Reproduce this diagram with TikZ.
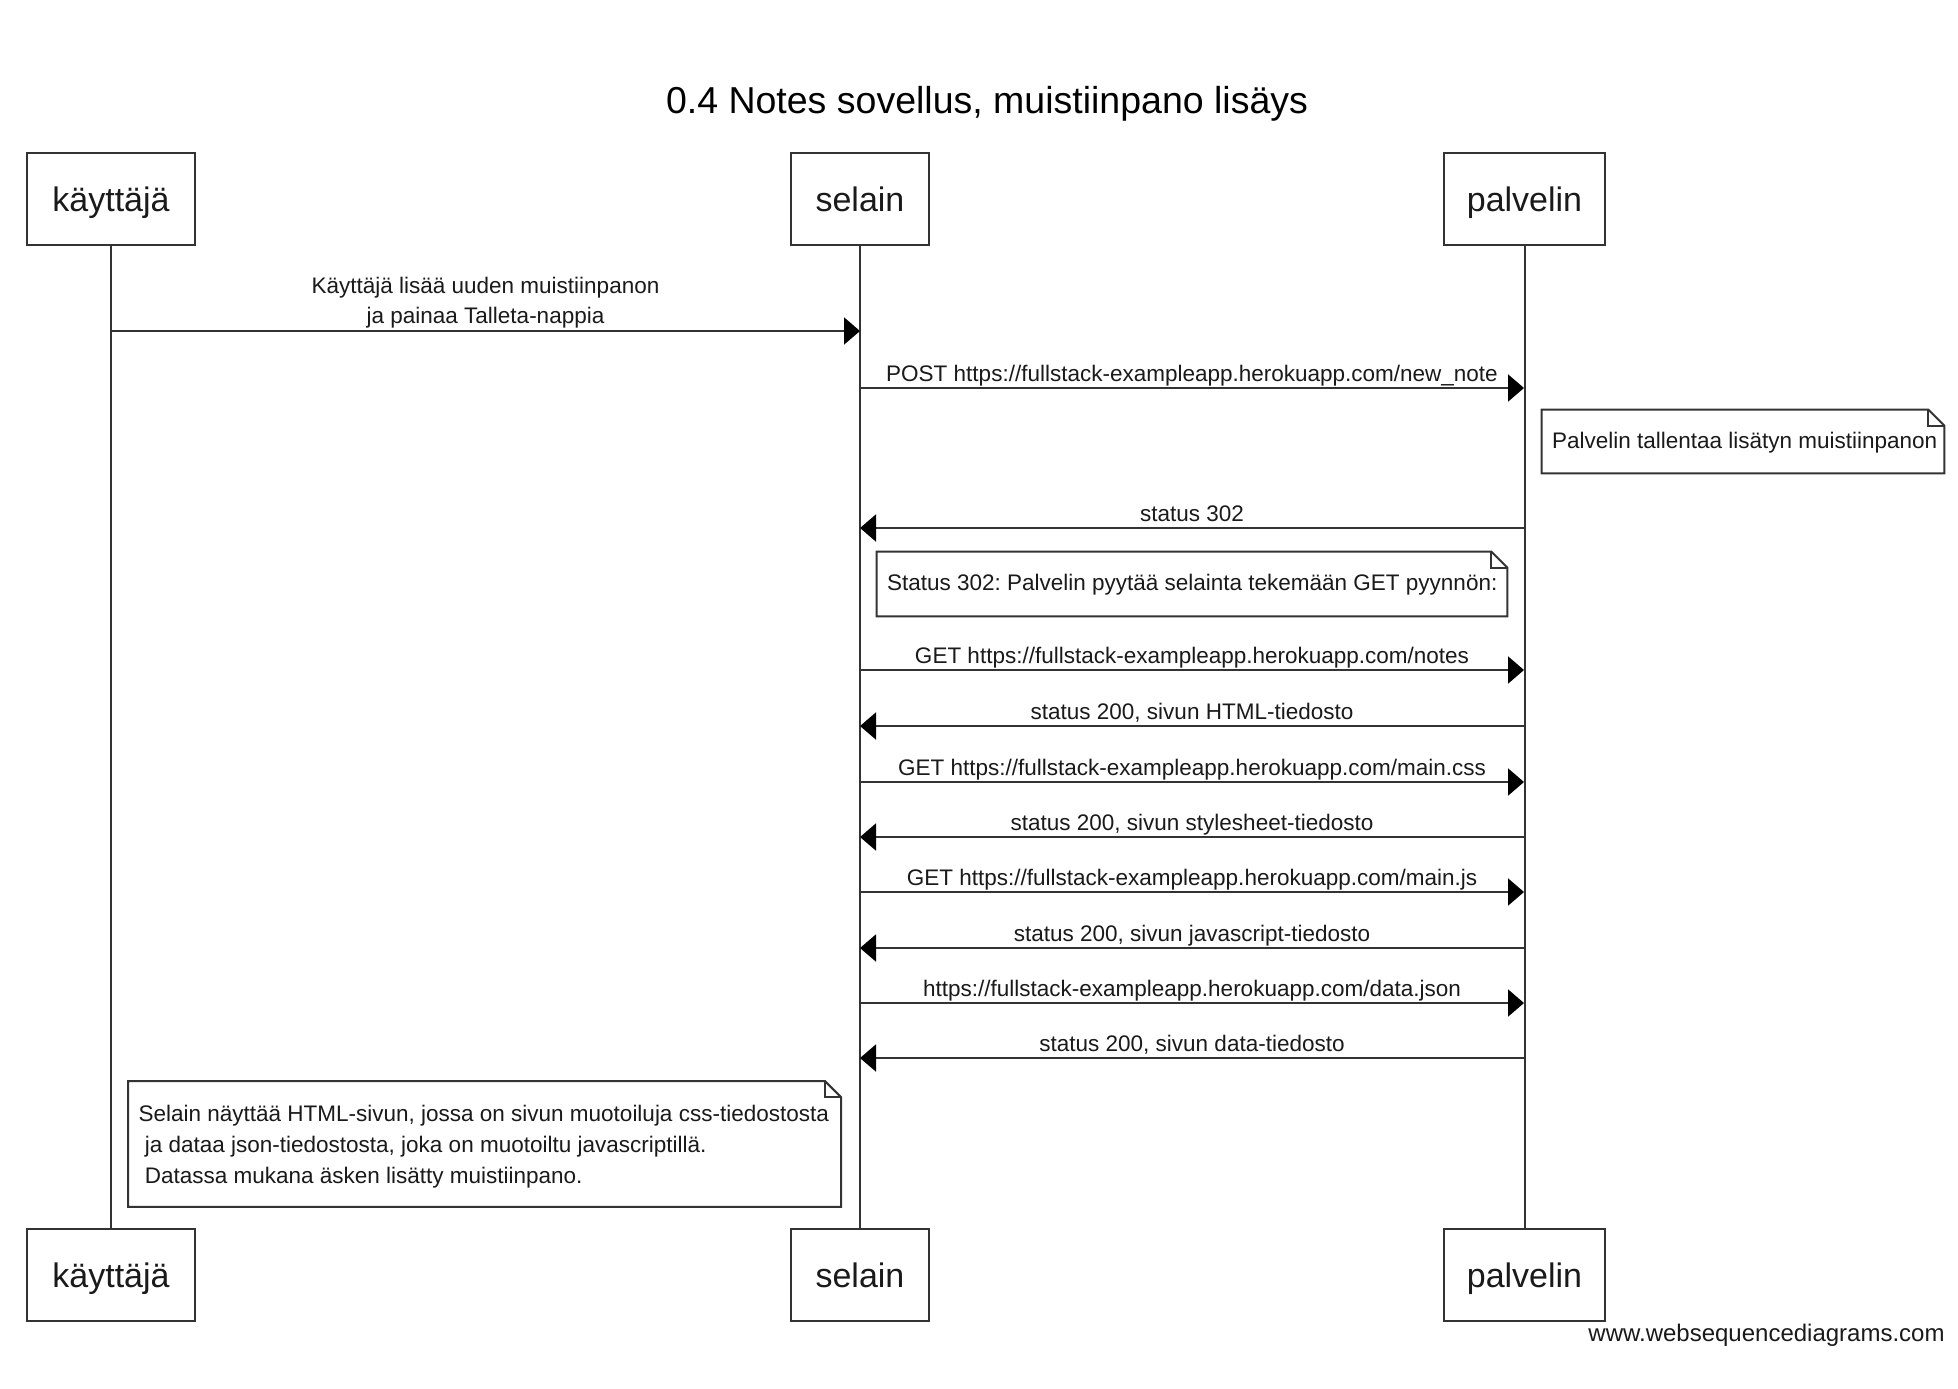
\documentclass[tikz,border=0pt]{standalone}
\usepackage{fontspec}
\setmainfont{Liberation Sans}
\usetikzlibrary{arrows.meta}
\definecolor{ln}{HTML}{333333}
\definecolor{tx}{HTML}{1A1A1A}
\frenchspacing
\begin{document}
\begin{tikzpicture}[x=0.5pt,y=-0.5pt,
  participant/.style={draw=ln, line width=1pt, fill=white, minimum height=46pt, inner sep=0pt, text height=12.7pt, text depth=0pt, font=\fontsize{17}{20}\selectfont, text=tx},
  lifeline/.style={draw=ln, line width=1pt},
  msg/.style={draw=ln, line width=1pt, -{Triangle[length=8pt,width=13.5pt,color=black]}},
  lbl/.style={anchor=base, inner sep=0pt, font=\fontsize{11.25}{15}\selectfont, text=tx},
  notebox/.style={inner sep=0pt},
  notetext/.style={anchor=west, inner sep=0pt, align=left, font=\fontsize{11.25}{15.5}\selectfont, text=tx},
  noteline/.style={draw=ln, line width=1pt, fill=white, line join=miter}
]
\fill[white] (0,0) rectangle (1958,1388);
\useasboundingbox (0,0) rectangle (1958,1388);

% title
\node[anchor=base, font=\fontsize{18.75}{22}\selectfont, text=black, inner sep=0pt] (title) at (987,113) {0.4 Notes sovellus, muistiinpano lisäys};

% participants
\node[participant, minimum width=84pt] (k1) at (111,199) {käyttäjä};
\node[participant, minimum width=69pt] (s1) at (860,199) {selain};
\node[participant, minimum width=80.5pt] (p1) at (1524.5,199) {palvelin};
\node[participant, minimum width=84pt] (k2) at (111,1274.5) {käyttäjä};
\node[participant, minimum width=69pt] (s2) at (860,1274.5) {selain};
\node[participant, minimum width=80.5pt] (p2) at (1524.5,1274.5) {palvelin};

% lifelines
\draw[lifeline] (k1.south) -- (k2.north);
\draw[lifeline] (s1.south) -- (s2.north);
\draw[lifeline] (p1.south) -- (p2.north);

% message 1
\coordinate (m1a) at (111,331);
\coordinate (m1b) at (860,331);
\draw[msg] (m1a) -- (m1b);
\node[lbl, anchor=south, align=center] (l1) at (485.5,328.5) {Käyttäjä lisää uuden muistiinpanon\\ja painaa Talleta-nappia};

% message 2
\coordinate (m2a) at (860,388);
\coordinate (m2b) at (1524,388);
\draw[msg] (m2a) -- (m2b);
\node[lbl] (l2) at (1192,381) {POST https://fullstack-exampleapp.herokuapp.com/new\_note};

% note 1
\node[notebox, minimum width=201pt, minimum height=31.5pt] (n1) at (1743,441.5) {};
\draw[noteline] (n1.south west) -- (n1.south east) -- ([yshift=-8pt]n1.north east) -- ([xshift=-8pt]n1.north east) -- (n1.north west) -- cycle;
\draw[draw=ln, line width=1pt] ([xshift=-8pt]n1.north east) |- ([yshift=-8pt]n1.north east);
\node[notetext] (t1) at ([xshift=5pt,yshift=-0.5pt]n1.west) {Palvelin tallentaa lisätyn muistiinpanon};

% message 3
\coordinate (m3a) at (1524,528);
\coordinate (m3b) at (860,528);
\draw[msg] (m3a) -- (m3b);
\node[lbl] (l3) at (1192,521) {status 302};

% note 2
\node[notebox, minimum width=315pt, minimum height=32pt] (n2) at (1192,584) {};
\draw[noteline] (n2.south west) -- (n2.south east) -- ([yshift=-8pt]n2.north east) -- ([xshift=-8pt]n2.north east) -- (n2.north west) -- cycle;
\draw[draw=ln, line width=1pt] ([xshift=-8pt]n2.north east) |- ([yshift=-8pt]n2.north east);
\node[notetext] (t2) at ([xshift=5pt,yshift=-0.5pt]n2.west) {Status 302: Palvelin pyytää selainta tekemään GET pyynnön:};

% messages 4-11
\coordinate (m4a) at (860,670);  \coordinate (m4b) at (1524,670);
\draw[msg] (m4a) -- (m4b);
\node[lbl] (l4) at (1192,663) {GET https://fullstack-exampleapp.herokuapp.com/notes};

\coordinate (m5a) at (1524,726);  \coordinate (m5b) at (860,726);
\draw[msg] (m5a) -- (m5b);
\node[lbl] (l5) at (1192,719) {status 200, sivun HTML-tiedosto};

\coordinate (m6a) at (860,782);  \coordinate (m6b) at (1524,782);
\draw[msg] (m6a) -- (m6b);
\node[lbl] (l6) at (1192,775) {GET https://fullstack-exampleapp.herokuapp.com/main.css};

\coordinate (m7a) at (1524,837);  \coordinate (m7b) at (860,837);
\draw[msg] (m7a) -- (m7b);
\node[lbl] (l7) at (1192,830) {status 200, sivun stylesheet-tiedosto};

\coordinate (m8a) at (860,892);  \coordinate (m8b) at (1524,892);
\draw[msg] (m8a) -- (m8b);
\node[lbl] (l8) at (1192,885) {GET https://fullstack-exampleapp.herokuapp.com/main.js};

\coordinate (m9a) at (1524,948);  \coordinate (m9b) at (860,948);
\draw[msg] (m9a) -- (m9b);
\node[lbl] (l9) at (1192,941) {status 200, sivun javascript-tiedosto};

\coordinate (m10a) at (860,1003);  \coordinate (m10b) at (1524,1003);
\draw[msg] (m10a) -- (m10b);
\node[lbl] (l10) at (1192,996) {https://fullstack-exampleapp.herokuapp.com/data.json};

\coordinate (m11a) at (1524,1058);  \coordinate (m11b) at (860,1058);
\draw[msg] (m11a) -- (m11b);
\node[lbl] (l11) at (1192,1051) {status 200, sivun data-tiedosto};

% note 3
\node[notebox, minimum width=356pt, minimum height=62.5pt] (n3) at (484.6,1144) {};
\draw[noteline] (n3.south west) -- (n3.south east) -- ([yshift=-8pt]n3.north east) -- ([xshift=-8pt]n3.north east) -- (n3.north west) -- cycle;
\draw[draw=ln, line width=1pt] ([xshift=-8pt]n3.north east) |- ([yshift=-8pt]n3.north east);
\node[notetext] (t3) at ([xshift=5pt,yshift=-1.5pt]n3.west) {Selain näyttää HTML-sivun, jossa on sivun muotoiluja css-tiedostosta\\\ ja dataa json-tiedostosta, joka on muotoiltu javascriptillä.\\\ Datassa mukana äsken lisätty muistiinpano.};

% footer
\node[anchor=east, inner sep=0pt, font=\fontsize{12}{14}\selectfont, text=tx] (ft) at (1945,1335) {www.websequencediagrams.com};
\end{tikzpicture}
\end{document}
